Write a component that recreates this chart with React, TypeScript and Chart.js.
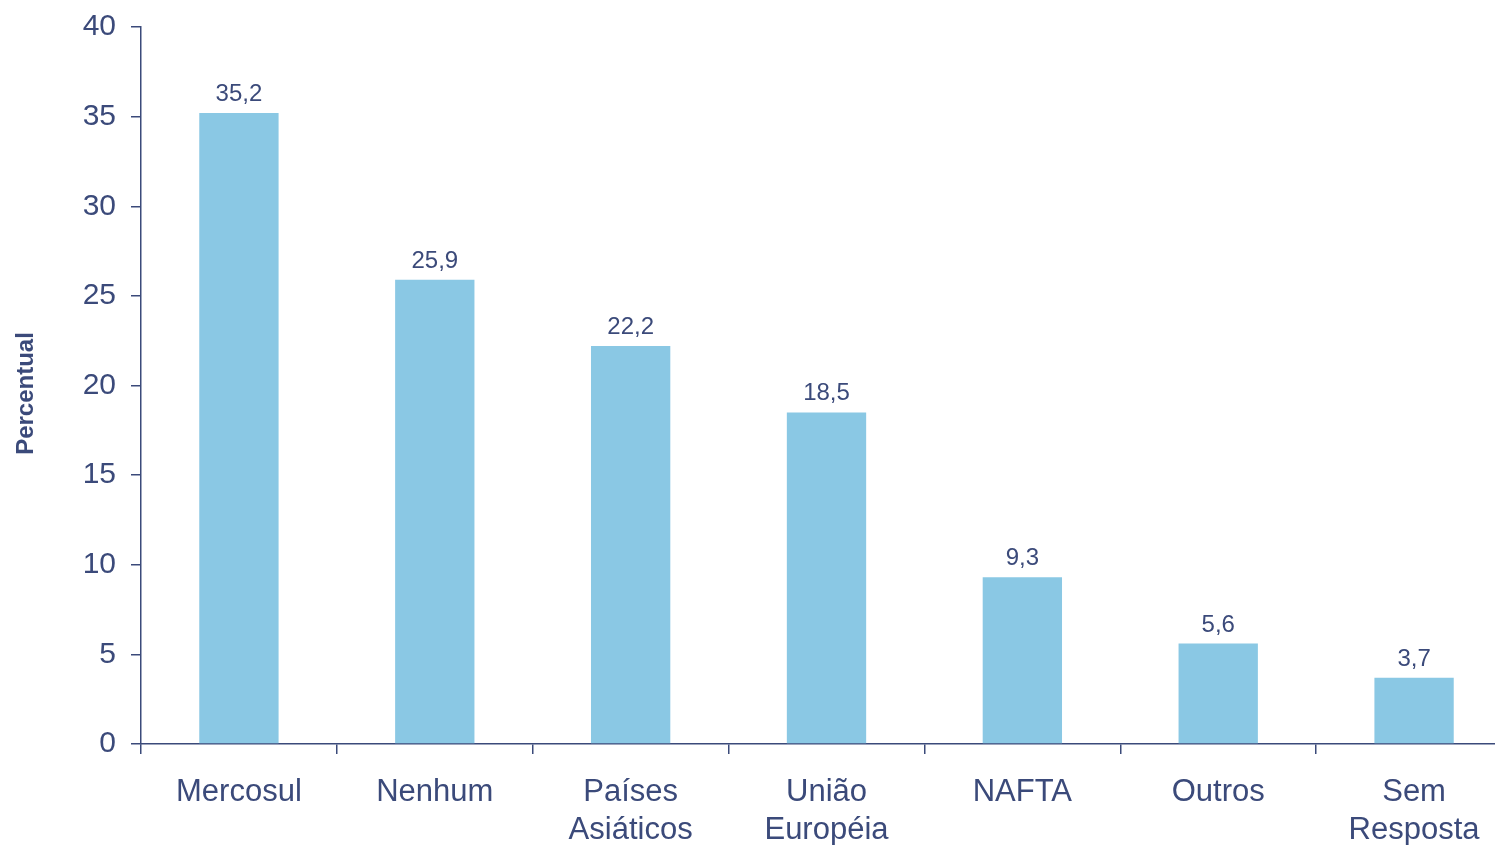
import React, { useEffect, useRef } from "react";
import { Chart, registerables } from "chart.js";

Chart.register(...registerables);

const categories: (string | string[])[] = [
  "Mercosul",
  "Nenhum",
  ["Países", "Asiáticos"],
  ["União", "Européia"],
  "NAFTA",
  "Outros",
  ["Sem", "Resposta"],
];
const values: number[] = [35.2, 25.9, 22.2, 18.5, 9.3, 5.6, 3.7];
const valueLabels: string[] = ["35,2", "25,9", "22,2", "18,5", "9,3", "5,6", "3,7"];
const yTicks: number[] = [0, 5, 10, 15, 20, 25, 30, 35, 40];
const yTitle = "Percentual";

const TEXT = "#3B4A7A";
const BAR = "#8AC8E4";
const FONT = "'Liberation Sans', Arial, sans-serif";

const valueLabelPlugin = {
  id: "valueLabels",
  afterDatasetsDraw(chart: any) {
    const ctx = chart.ctx;
    const meta = chart.getDatasetMeta(0);
    ctx.save();
    ctx.fillStyle = TEXT;
    ctx.font = `24px ${FONT}`;
    ctx.textAlign = "center";
    ctx.textBaseline = "alphabetic";
    meta.data.forEach((bar: any, i: number) => {
      ctx.fillText(valueLabels[i], bar.x, bar.y - 12);
    });
    // y-axis title
    const yScale = chart.scales.y;
    ctx.font = `bold 24px ${FONT}`;
    ctx.textBaseline = "middle";
    ctx.translate(26, (yScale.top + yScale.bottom) / 2 + 8);
    ctx.rotate(-Math.PI / 2);
    ctx.fillText(yTitle, 0, 0);
    ctx.restore();
  },
};

export default function App() {
  const ref = useRef<HTMLCanvasElement>(null);
  useEffect(() => {
    if (!ref.current) return;
    const chart = new Chart(ref.current, {
      type: "bar",
      data: {
        labels: categories,
        datasets: [
          {
            data: values,
            backgroundColor: BAR,
            borderWidth: 0,
            categoryPercentage: 1,
            barPercentage: 0.405,
          },
        ],
      },
      options: {
        animation: false,
        responsive: true,
        maintainAspectRatio: false,
        layout: { padding: { top: 27, right: 8, bottom: 0, left: 0 } },
        plugins: {
          legend: { display: false },
          tooltip: { enabled: false },
        },
        scales: {
          x: {
            offset: true,
            grid: {
              display: true,
              offset: true,
              drawOnChartArea: false,
              drawTicks: true,
              tickLength: 10,
              color: TEXT,
              lineWidth: 1.5,
            },
            border: { display: true, color: TEXT, width: 1.5 },
            ticks: {
              color: TEXT,
              font: { family: FONT, size: 31, lineHeight: 1.22 },
              padding: 20,
              maxRotation: 0,
              autoSkip: false,
            },
            afterFit(scale: any) {
              scale.height = 101;
              scale.paddingLeft = 0;
              scale.paddingRight = 0;
            },
          },
          y: {
            min: 0,
            max: 40,
            afterBuildTicks(scale: any) {
              scale.ticks = yTicks.map((v) => ({ value: v }));
            },
            grid: {
              display: true,
              drawOnChartArea: false,
              drawTicks: true,
              tickLength: 10,
              color: TEXT,
              lineWidth: 1.5,
            },
            border: { display: true, color: TEXT, width: 1.5 },
            ticks: {
              color: TEXT,
              font: { family: FONT, size: 30 },
              padding: 15,
            },
            afterFit(scale: any) {
              scale.width = 141;
              scale.paddingTop = 0;
              scale.paddingBottom = 0;
            },
          },
        },
      },
      plugins: [valueLabelPlugin],
    });
    return () => chart.destroy();
  }, []);

  return (
    <div
      style={{
        position: "absolute",
        left: 0,
        top: 0,
        width: 1495,
        height: 845,
        overflow: "hidden",
        background: "#fff",
      }}
    >
      <div style={{ position: "relative", width: 1520, height: 845 }}>
        <canvas ref={ref} />
      </div>
    </div>
  );
}
